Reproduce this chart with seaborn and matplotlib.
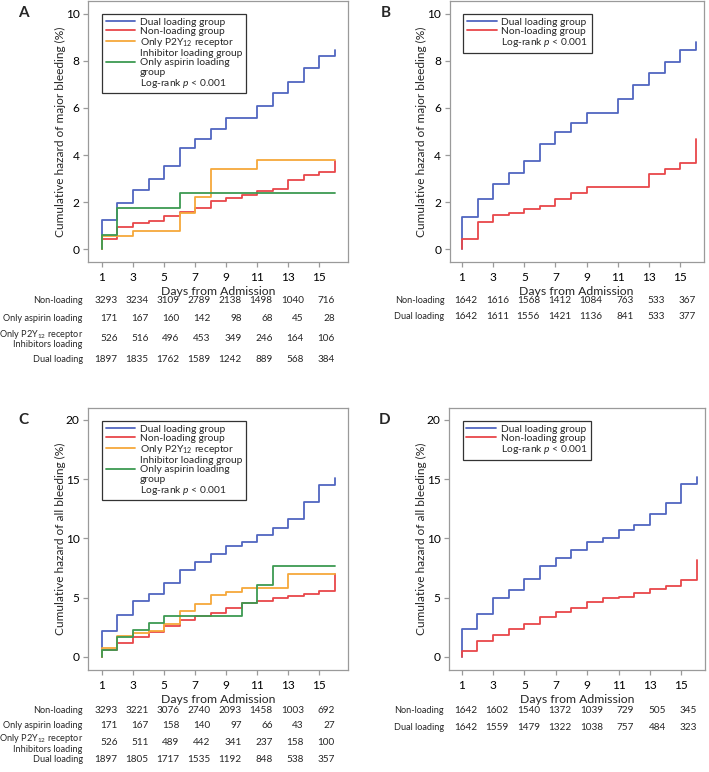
import matplotlib
matplotlib.use('Agg')
import matplotlib.pyplot as plt
from matplotlib.lines import Line2D
import seaborn as sns
import pandas as pd

# step days (hazard jumps at each day of follow-up)
days = [1, 2, 3, 4, 5, 6, 7, 8, 9, 10, 11, 12, 13, 14, 15, 16]
tick_days = [1, 3, 5, 7, 9, 11, 13, 15]

# Panel A - major bleeding, four groups
dual_a = [1.25, 1.98, 2.52, 3.0, 3.55, 4.3, 4.7, 5.1, 5.57, 5.57, 6.1, 6.62, 7.12, 7.7, 8.2, 8.48]
non_a = [0.45, 0.93, 1.1, 1.2, 1.4, 1.57, 1.73, 2.03, 2.18, 2.32, 2.45, 2.55, 2.93, 3.15, 3.28, 3.76]
p2y_a = [0.55, 0.55, 0.75, 0.75, 0.75, 1.55, 2.22, 3.4, 3.4, 3.4, 3.8, 3.8, 3.8, 3.8, 3.8, 3.8]
asp_a = [0.58, 1.73, 1.73, 1.73, 1.73, 2.37, 2.37, 2.37, 2.37, 2.37, 2.37, 2.37, 2.37, 2.37, 2.37, 2.37]

# Panel B - major bleeding, matched groups
dual_b = [1.35, 2.13, 2.75, 3.25, 3.75, 4.48, 4.97, 5.35, 5.78, 5.78, 6.38, 6.97, 7.5, 7.95, 8.48, 8.8]
non_b = [0.43, 1.15, 1.47, 1.53, 1.72, 1.85, 2.13, 2.37, 2.65, 2.65, 2.65, 2.65, 3.2, 3.42, 3.68, 4.68]

# Panel C - all bleeding, four groups
dual_c = [2.15, 3.5, 4.68, 5.35, 6.28, 7.35, 8.0, 8.65, 9.37, 9.7, 10.33, 10.86, 11.65, 13.05, 14.53, 15.12]
non_c = [0.56, 1.21, 1.69, 2.1, 2.6, 3.1, 3.43, 3.72, 4.1, 4.55, 4.72, 4.95, 5.15, 5.35, 5.6, 7.0]
p2y_c = [0.72, 1.75, 2.0, 2.2, 2.75, 3.85, 4.5, 5.2, 5.5, 5.78, 5.78, 5.78, 6.98, 6.98, 6.98, 6.98]
asp_c = [0.6, 1.7, 2.28, 2.85, 3.45, 3.45, 3.45, 3.45, 3.45, 4.55, 6.05, 7.7, 7.7, 7.7, 7.7, 7.7]

# Panel D - all bleeding, matched groups
dual_d = [2.35, 3.65, 4.95, 5.65, 6.55, 7.65, 8.35, 9.0, 9.7, 10.0, 10.7, 11.15, 12.07, 12.95, 14.55, 15.2]
non_d = [0.52, 1.35, 1.88, 2.35, 2.8, 3.35, 3.8, 4.15, 4.65, 4.95, 5.1, 5.4, 5.75, 6.0, 6.5, 8.2]

# numbers at risk
risk_labels_4 = ['Non-loading', 'Only aspirin loading',
                 'Only P2Y$_{12}$ receptor\nInhibitors loading', 'Dual loading']
risk_labels_2 = ['Non-loading', 'Dual loading']
risk_a = [[3293, 3234, 3109, 2789, 2138, 1498, 1040, 716],
          [171, 167, 160, 142, 98, 68, 45, 28],
          [526, 516, 496, 453, 349, 246, 164, 106],
          [1897, 1835, 1762, 1589, 1242, 889, 568, 384]]
risk_b = [[1642, 1616, 1568, 1412, 1084, 763, 533, 367],
          [1642, 1611, 1556, 1421, 1136, 841, 533, 377]]
risk_c = [[3293, 3221, 3076, 2740, 2093, 1458, 1003, 692],
          [171, 167, 158, 140, 97, 66, 43, 27],
          [526, 511, 489, 442, 341, 237, 158, 100],
          [1897, 1805, 1717, 1535, 1192, 848, 538, 357]]
risk_d = [[1642, 1602, 1540, 1372, 1039, 729, 505, 345],
          [1642, 1559, 1479, 1322, 1038, 757, 484, 323]]

groups_4 = ['Dual loading group', 'Non-loading group',
            'Only P2Y$_{12}$ receptor', 'Only aspirin loading']
groups_2 = ['Dual loading group', 'Non-loading group']
colors = {'Dual loading group': '#5066c0', 'Non-loading group': '#e8474a',
          'Only P2Y$_{12}$ receptor': '#f6a83a', 'Only aspirin loading': '#3d9a52'}

fs = 7.4

sns.set_theme(style='ticks')
plt.rcParams['font.family'] = ['Lato', 'DejaVu Sans']
plt.rcParams['mathtext.fontset'] = 'custom'
plt.rcParams['mathtext.rm'] = 'Lato'
plt.rcParams['mathtext.it'] = 'Lato:italic'
plt.rcParams['axes.edgecolor'] = '#9a9a9a'
plt.rcParams['xtick.color'] = '#9a9a9a'
plt.rcParams['ytick.color'] = '#9a9a9a'
plt.rcParams['xtick.labelcolor'] = 'black'
plt.rcParams['ytick.labelcolor'] = 'black'


def to_frame(series, names):
    rows = []
    for name, vals in zip(names, series):
        rows.append({'day': days[0], 'hazard': 0.0, 'group': name})
        for d, v in zip(days, vals):
            rows.append({'day': d, 'hazard': v, 'group': name})
    return pd.DataFrame(rows)


def draw_panel(ax, series, names, legend_rows, ylabel, ylim, yticks, xlim,
               risk, risk_labels, risk_y, letter):
    df = to_frame(series, names)
    sns.lineplot(data=df, x='day', y='hazard', hue='group', hue_order=names,
                 palette=colors, estimator=None, drawstyle='steps-post',
                 linewidth=1.3, legend=False, ax=ax)
    ax.set_xlim(*xlim)
    ax.set_ylim(*ylim)
    ax.set_xticks(tick_days)
    ax.set_yticks(yticks)
    ax.tick_params(length=3.5, width=0.9, pad=2.5, labelsize=fs + 1.2)
    ax.tick_params(axis='x', pad=3.5)
    for s in ax.spines.values():
        s.set_linewidth(0.9)
    ax.set_xlabel('Days from Admission', fontsize=fs + 1.4, labelpad=2.5)
    ax.set_ylabel(ylabel, fontsize=fs + 1.2, labelpad=0)

    # legend: one row per text line, handles only on first lines
    handles = []
    for entry in legend_rows:
        handles.append(Line2D([], [], color=colors.get(entry, 'none'), lw=1.3))
    leg = ax.legend(handles, legend_rows, loc='upper left',
                    bbox_to_anchor=(0.054, 0.95), borderaxespad=0,
                    fontsize=fs, handlelength=2.9, handletextpad=0.45,
                    labelspacing=0.0, borderpad=0.35, fancybox=False,
                    framealpha=1, edgecolor='#333333')
    leg.get_frame().set_linewidth(0.9)

    # numbers at risk table
    for row_vals, lab, yy in zip(risk, risk_labels, risk_y):
        ax.text(-0.02, yy, lab, transform=ax.transAxes, ha='right',
                va='center', fontsize=fs - 0.8, linespacing=0.95)
        for d, v in zip(tick_days, row_vals):
            ax.text(d + 1.0, yy, str(v), transform=ax.get_xaxis_transform(),
                    ha='right', va='center', fontsize=fs - 0.2)

    ax.text(-0.25, 0.955, letter, transform=ax.transAxes, fontsize=11,
            fontweight='bold', ha='center', va='center')


fig = plt.figure(figsize=(7.09, 7.72), dpi=100)
ax_a = fig.add_axes([0.1241, 0.6606, 0.3667, 0.3381])
ax_b = fig.add_axes([0.6340, 0.6606, 0.3583, 0.3381])
ax_c = fig.add_axes([0.1241, 0.1321, 0.3667, 0.3394])
ax_d = fig.add_axes([0.6333, 0.1321, 0.3610, 0.3394])

legend_4 = ['Dual loading group', 'Non-loading group', 'Only P2Y$_{12}$ receptor',
            'Inhibitor loading group', 'Only aspirin loading', 'group',
            'Log-rank $p$ < 0.001']
legend_2 = ['Dual loading group', 'Non-loading group', 'Log-rank $p$ < 0.001']

draw_panel(ax_a, [dual_a, non_a, p2y_a, asp_a], groups_4, legend_4,
           'Cumulative hazard of major bleeding (%)', (-0.55, 10.55),
           [0, 2, 4, 6, 8, 10], (0.1, 16.85), risk_a, risk_labels_4,
           [-0.149, -0.215, -0.293, -0.372], 'A')
draw_panel(ax_b, [dual_b, non_b], groups_2, legend_2,
           'Cumulative hazard of major bleeding (%)', (-0.55, 10.55),
           [0, 2, 4, 6, 8, 10], (0.2, 16.5), risk_b, risk_labels_2,
           [-0.149, -0.21], 'B')
draw_panel(ax_c, [dual_c, non_c, p2y_c, asp_c], groups_4, legend_4,
           'Cumulative hazard of all bleeding (%)', (-1.1, 21.0),
           [0, 5, 10, 15, 20], (0.1, 16.85), risk_c, risk_labels_4,
           [-0.153, -0.21, -0.278, -0.342], 'C')
draw_panel(ax_d, [dual_d, non_d], groups_2, legend_2,
           'Cumulative hazard of all bleeding (%)', (-1.1, 21.0),
           [0, 5, 10, 15, 20], (0.2, 16.5), risk_d, risk_labels_2,
           [-0.153, -0.218], 'D')

fig.savefig('out.png', dpi=100)
